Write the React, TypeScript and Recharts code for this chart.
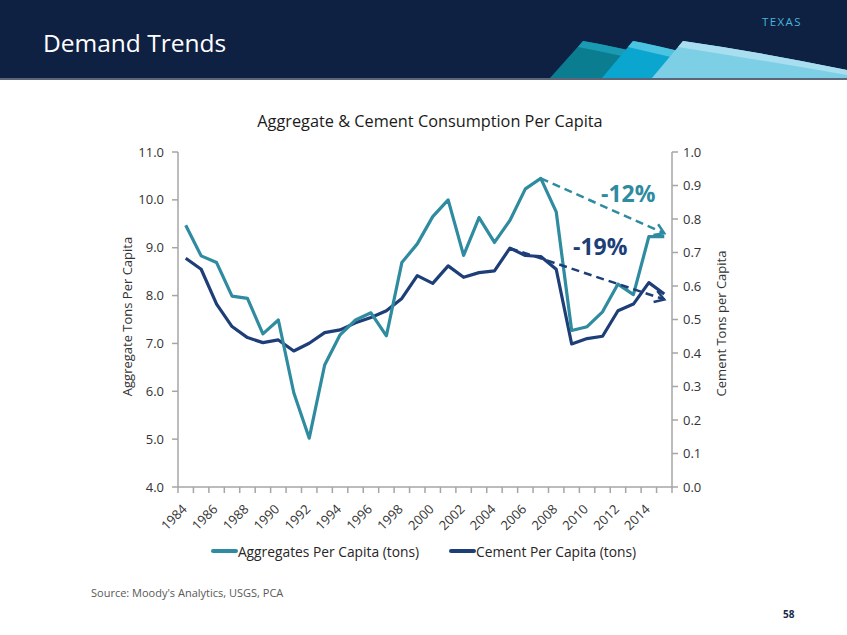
import React from 'react';
import { ComposedChart, Line, XAxis, YAxis, ReferenceLine, Legend } from 'recharts';

const years = [
  '1984', '1985', '1986', '1987', '1988', '1989', '1990', '1991', '1992', '1993', '1994',
  '1995', '1996', '1997', '1998', '1999', '2000', '2001', '2002', '2003', '2004', '2005',
  '2006', '2007', '2008', '2009', '2010', '2011', '2012', '2013', '2014', '2015',
];
const aggregates = [
  9.47, 8.83, 8.69, 7.99, 7.94, 7.2, 7.49, 5.97, 5.02, 6.55, 7.18,
  7.49, 7.64, 7.16, 8.69, 9.08, 9.65, 10.0, 8.84, 9.63, 9.11, 9.57,
  10.23, 10.45, 9.75, 7.27, 7.35, 7.66, 8.24, 8.02, 9.23, 9.23,
];
const cement = [
  0.683, 0.65, 0.546, 0.479, 0.446, 0.431, 0.439, 0.406, 0.429, 0.461, 0.469,
  0.49, 0.506, 0.526, 0.563, 0.631, 0.608, 0.66, 0.626, 0.64, 0.645, 0.713,
  0.691, 0.688, 0.65, 0.427, 0.443, 0.45, 0.526, 0.546, 0.61, 0.576,
];
const leftTicks = [4, 5, 6, 7, 8, 9, 10, 11];
const rightTicks = [0, 0.1, 0.2, 0.3, 0.4, 0.5, 0.6, 0.7, 0.8, 0.9, 1.0];
const seriesNames = ['Aggregates Per Capita (tons)', 'Cement Per Capita (tons)'];
const aggDecline = { label: '-12%', from: '2007', fromValue: 10.45, to: '2015', toValue: 9.3 };
const cementDecline = { label: '-19%', from: '2005', fromValue: 0.713, to: '2015', toValue: 0.56 };

const TEAL = '#2f8b9f';
const NAVY = '#1e3e78';
const AXIS = '#a6a6a6';
const TEXT = '#333333';
const FONT = "'Open Sans', 'Noto Sans', sans-serif";

const data = years.map((year, i) => ({ year, aggregates: aggregates[i], cement: cement[i] }));

const XTick = (props: any) => {
  const { x, y, payload } = props;
  const half = payload && typeof payload.offset === 'number' && payload.offset > 0 ? payload.offset : 7.72;
  const year = String(payload.value);
  const isLast = year === years[years.length - 1];
  const showLabel = Number(year) % 2 === 0;
  const tx = x + 2;
  const ty = y + 23;
  return (
    <g>
      <line x1={x - half} x2={x - half} y1={y} y2={y + 6} stroke={AXIS} strokeWidth={1.5} />
      {isLast && <line x1={x + half} x2={x + half} y1={y} y2={y + 6} stroke={AXIS} strokeWidth={1.5} />}
      {showLabel && (
        <text
          x={tx}
          y={ty}
          transform={`rotate(-45 ${tx} ${ty})`}
          textAnchor="end"
          fontFamily={FONT}
          fontSize={13}
          fill={TEXT}
        >
          {year}
        </text>
      )}
    </g>
  );
};

const makeAxisTitle = (text: string, dxFromAxisBox: number, dy: number) => (props: any) => {
  const vb = props.viewBox || {};
  const cx = (vb.x ?? 0) + dxFromAxisBox;
  const cy = (vb.y ?? 0) + (vb.height ?? 0) / 2 + dy;
  return (
    <text
      x={cx}
      y={cy}
      transform={`rotate(-90 ${cx} ${cy})`}
      textAnchor="middle"
      dominantBaseline="central"
      fontFamily={FONT}
      fontSize={13}
      fill={TEXT}
    >
      {text}
    </text>
  );
};

const makeArrowShape = (color: string) => (props: any) => {
  const { x1, y1, x2, y2 } = props;
  if ([x1, y1, x2, y2].some((v) => typeof v !== 'number' || isNaN(v))) return <g />;
  const dx = x2 - x1;
  const dy = y2 - y1;
  const len = Math.hypot(dx, dy) || 1;
  const vx = -dx / len;
  const vy = -dy / len;
  const head = 11;
  const th = (32 * Math.PI) / 180;
  const a1x = x2 + head * (vx * Math.cos(th) - vy * Math.sin(th));
  const a1y = y2 + head * (vx * Math.sin(th) + vy * Math.cos(th));
  const a2x = x2 + head * (vx * Math.cos(-th) - vy * Math.sin(-th));
  const a2y = y2 + head * (vx * Math.sin(-th) + vy * Math.cos(-th));
  return (
    <g>
      <line x1={x1} y1={y1} x2={x2} y2={y2} stroke={color} strokeWidth={2.5} strokeDasharray="8 5" />
      <path d={`M${a1x},${a1y} L${x2},${y2} L${a2x},${a2y}`} fill="none" stroke={color} strokeWidth={2.5} />
    </g>
  );
};

const LegendContent = () => {
  const items = [
    { name: seriesNames[0], color: TEAL },
    { name: seriesNames[1], color: NAVY },
  ];
  return (
    <div
      style={{
        display: 'flex',
        justifyContent: 'center',
        alignItems: 'center',
        gap: 30,
        height: 20,
        fontFamily: FONT,
        fontSize: 13.8,
        color: '#262626',
      }}
    >
      {items.map((it) => (
        <div key={it.name} style={{ display: 'flex', alignItems: 'center' }}>
          <span
            style={{ display: 'inline-block', width: 27, height: 4, borderRadius: 2, background: it.color }}
          />
          <span>{it.name}</span>
        </div>
      ))}
    </div>
  );
};

const Header = () => (
  <div
    style={{
      position: 'absolute',
      left: 0,
      top: 0,
      width: 847,
      height: 78,
      background: '#0f2143',
      borderBottom: '2px solid #5d6678',
      overflow: 'hidden',
    }}
  >
    <svg width={847} height={78} style={{ position: 'absolute', left: 0, top: 0 }}>
      <path d="M583,41 Q620,47 665,60 L665,78 L550,78 Z" fill="#0b7d91" />
      <path d="M583,41 Q620,47 665,60 L665,66 Q620,55 578,47 Z" fill="#1a9bb3" />
      <path d="M633,41 Q670,48 720,62 L720,78 L602,78 Z" fill="#0aa6cf" />
      <path d="M633,41 Q670,48 720,62 L720,68 Q670,57 628,47 Z" fill="#4cc3e0" />
      <path d="M683,41 Q760,52 847,70 L847,78 L652,78 Z" fill="#7dcfe5" />
      <path d="M683,41 Q760,52 847,70 L847,75 Q760,60 678,47 Z" fill="#a8def0" />
    </svg>
    <div
      style={{
        position: 'absolute',
        left: 43,
        top: 27,
        fontFamily: FONT,
        fontSize: 24.5,
        fontWeight: 500,
        color: '#ffffff',
        lineHeight: '32px',
        whiteSpace: 'nowrap',
      }}
    >
      Demand Trends
    </div>
    <div
      style={{
        position: 'absolute',
        left: 762,
        top: 14,
        fontFamily: FONT,
        fontSize: 11.5,
        letterSpacing: 1.4,
        color: '#49b3d9',
        lineHeight: '16px',
        whiteSpace: 'nowrap',
      }}
    >
      TEXAS
    </div>
  </div>
);

export default function App() {
  return (
    <div style={{ position: 'absolute', left: 0, top: 0, width: 847, height: 635, background: '#ffffff', overflow: 'hidden' }}>
      <Header />
      <svg width={847} height={635} style={{ position: 'absolute', left: 0, top: 0 }}>
        <text x={430} y={127} textAnchor="middle" fontFamily={FONT} fontSize={16.3} fontWeight={500} fill="#1a1a1a">
          Aggregate &amp; Cement Consumption Per Capita
        </text>
        <text x={601} y={202} fontFamily={FONT} fontSize={23} fontWeight={700} fill={TEAL}>
          {aggDecline.label}
        </text>
        <text x={573} y={255} fontFamily={FONT} fontSize={23} fontWeight={700} fill={NAVY}>
          {cementDecline.label}
        </text>
        <text x={91} y={597} fontFamily={FONT} fontSize={11} fill="#595959">
          Source: Moody's Analytics, USGS, PCA
        </text>
        <text x={783} y={618} fontFamily={FONT} fontSize={10} fontWeight={700} fill="#1a2a4a">
          58
        </text>
      </svg>
      <div style={{ position: 'absolute', left: 0, top: 100, width: 847, height: 480 }}>
        <ComposedChart width={847} height={480} data={data} margin={{ top: 52, right: 115, bottom: 19, left: 118 }}>
          <XAxis
            dataKey="year"
            scale="band"
            interval={0}
            height={54}
            tick={<XTick />}
            tickLine={false}
            tickSize={0}
            tickMargin={0}
            axisLine={{ stroke: AXIS, strokeWidth: 1.5 }}
          />
          <YAxis
            yAxisId="left"
            orientation="left"
            width={60}
            domain={[4, 11]}
            ticks={leftTicks}
            tickFormatter={(v: number) => v.toFixed(1)}
            tick={{ fontFamily: FONT, fontSize: 13, fill: TEXT }}
            tickSize={6}
            tickMargin={8}
            tickLine={{ stroke: AXIS, strokeWidth: 1.5 }}
            axisLine={{ stroke: AXIS, strokeWidth: 1.5 }}
            allowDataOverflow
            label={makeAxisTitle('Aggregate Tons Per Capita', 9, -3)}
          />
          <YAxis
            yAxisId="right"
            orientation="right"
            width={60}
            domain={[0, 1]}
            ticks={rightTicks}
            tickFormatter={(v: number) => v.toFixed(1)}
            tick={{ fontFamily: FONT, fontSize: 13, fill: TEXT }}
            tickSize={6}
            tickMargin={5}
            tickLine={{ stroke: AXIS, strokeWidth: 1.5 }}
            axisLine={{ stroke: AXIS, strokeWidth: 1.5 }}
            allowDataOverflow
            label={makeAxisTitle('Cement Tons per Capita', 48.5, 4)}
          />
          <Legend verticalAlign="bottom" content={<LegendContent />} wrapperStyle={{ left: 0, width: 847, bottom: 19 }} />
          <Line
            yAxisId="right"
            dataKey="cement"
            name={seriesNames[1]}
            stroke={NAVY}
            strokeWidth={3.2}
            dot={false}
            activeDot={false}
            isAnimationActive={false}
            strokeLinejoin="round"
          />
          <Line
            yAxisId="left"
            dataKey="aggregates"
            name={seriesNames[0]}
            stroke={TEAL}
            strokeWidth={3.2}
            dot={false}
            activeDot={false}
            isAnimationActive={false}
            strokeLinejoin="round"
          />
          <ReferenceLine
            yAxisId="left"
            segment={[
              { x: aggDecline.from, y: aggDecline.fromValue },
              { x: aggDecline.to, y: aggDecline.toValue },
            ]}
            ifOverflow="visible"
            shape={makeArrowShape(TEAL)}
          />
          <ReferenceLine
            yAxisId="right"
            segment={[
              { x: cementDecline.from, y: cementDecline.fromValue },
              { x: cementDecline.to, y: cementDecline.toValue },
            ]}
            ifOverflow="visible"
            shape={makeArrowShape(NAVY)}
          />
        </ComposedChart>
      </div>
    </div>
  );
}
